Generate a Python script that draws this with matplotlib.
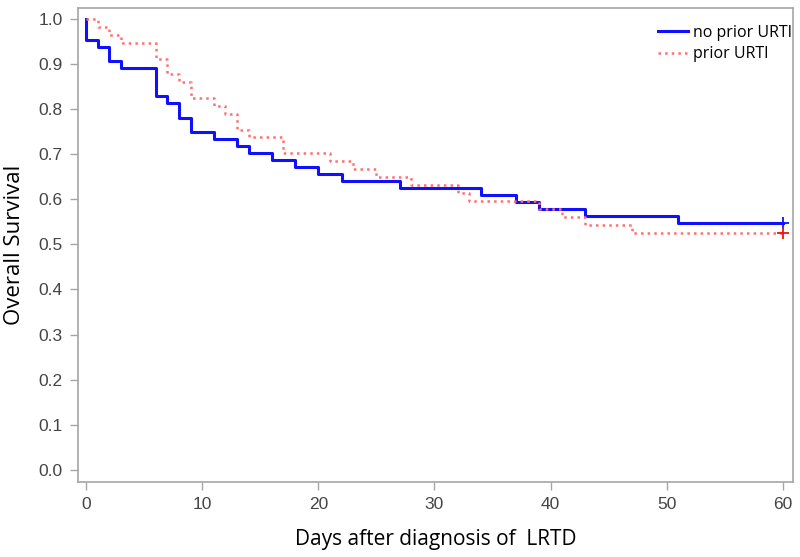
import matplotlib
matplotlib.use("Agg")
import matplotlib.pyplot as plt

# Kaplan-Meier steps
days_no_prior = [0, 0, 1, 2, 3, 6, 7, 8, 9, 11, 13, 14, 16, 18, 20, 22, 27, 34, 37, 39, 43, 51, 60]
surv_no_prior = [1.0, 0.953, 0.938, 0.906, 0.891, 0.828, 0.813, 0.781, 0.750, 0.734, 0.719, 0.703,
                 0.688, 0.672, 0.656, 0.641, 0.625, 0.609, 0.594, 0.578, 0.563, 0.547, 0.547]

days_prior = [0, 1, 2, 3, 6, 7, 8, 9, 11, 12, 13, 14, 17, 21, 23, 25, 28, 32, 33, 39, 41, 43, 47, 60]
surv_prior = [1.0, 0.982, 0.965, 0.947, 0.912, 0.877, 0.860, 0.825, 0.807, 0.789, 0.754, 0.737,
              0.702, 0.684, 0.667, 0.649, 0.632, 0.614, 0.596, 0.579, 0.561, 0.544, 0.526, 0.526]

x_ticks = [0, 10, 20, 30, 40, 50, 60]
y_ticks = [0.0, 0.1, 0.2, 0.3, 0.4, 0.5, 0.6, 0.7, 0.8, 0.9, 1.0]

tick_font = ['Liberation Sans', 'DejaVu Sans']
label_font = ['Open Sans', 'DejaVu Sans']
grey = '#a6a6a6'

fig = plt.figure(figsize=(8, 5.57), dpi=100)
ax = fig.add_axes([0.0975, 0.1346, 0.8935, 0.851])

ax.step(days_no_prior, surv_no_prior, where='post', color='#1010ff', lw=2.2, label='no prior URTI')
ax.step(days_prior, surv_prior, where='post', color='#ff7070', lw=1.8, ls=':', label='prior URTI')
ax.plot(days_no_prior[-1], surv_no_prior[-1], marker='+', color='#1010ff', ms=9, mew=1.3)
ax.plot(days_prior[-1], surv_prior[-1], marker='+', color='#ee1111', ms=9, mew=1.3)

ax.set_xlim(-0.69, 60.86)
ax.set_ylim(-0.027, 1.024)
ax.set_xticks(x_ticks)
ax.set_yticks(y_ticks)
ax.set_xticklabels([str(t) for t in x_ticks], family=tick_font, fontsize=12.5)
ax.set_yticklabels(['%.1f' % t for t in y_ticks], family=tick_font, fontsize=12.5)
ax.tick_params(colors=grey, labelcolor='#444444', length=6, width=1, pad=5)

for s in ax.spines.values():
    s.set_color(grey)
    s.set_linewidth(1.2)

ax.set_xlabel('Days after diagnosis of  LRTD', family=label_font, fontsize=15, labelpad=12)
ax.set_ylabel('Overall Survival', family=label_font, fontsize=16, labelpad=10)

leg = ax.legend(loc='upper right', bbox_to_anchor=(1.012, 0.985), frameon=False,
                prop={'family': label_font, 'size': 11.5},
                handlelength=1.9, handletextpad=0.3, borderaxespad=0.2, labelspacing=0.35)

fig.savefig('out.png', dpi=100)
